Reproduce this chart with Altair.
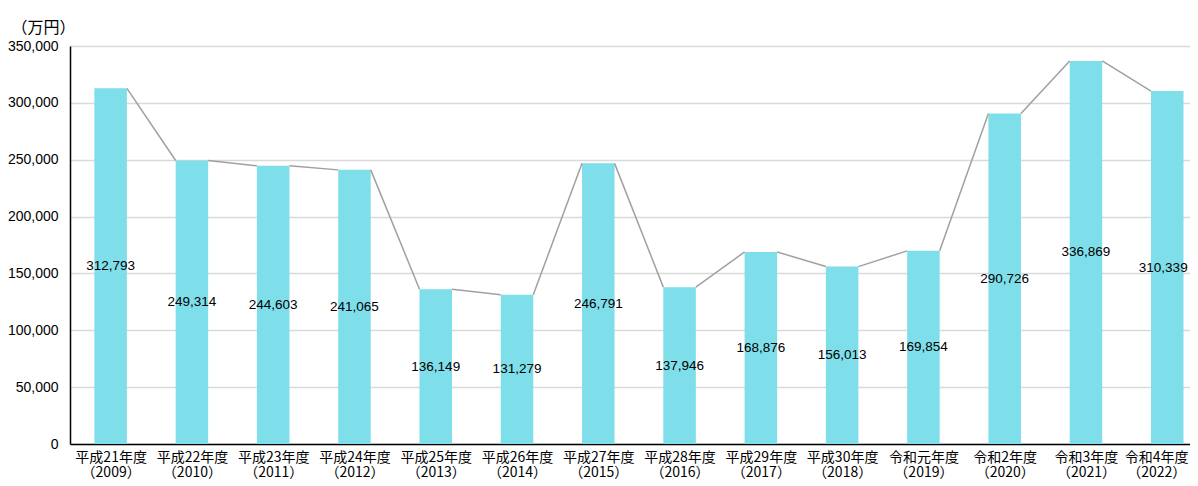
import json
import altair as alt
import pandas as pd

eras = ["平成21年度", "平成22年度", "平成23年度", "平成24年度", "平成25年度", "平成26年度",
        "平成27年度", "平成28年度", "平成29年度", "平成30年度", "令和元年度", "令和2年度",
        "令和3年度", "令和4年度"]
years = ["2009", "2010", "2011", "2012", "2013", "2014", "2015", "2016", "2017", "2018",
         "2019", "2020", "2021", "2022"]
values = [312793, 249314, 244603, 241065, 136149, 131279, 246791, 137946, 168876, 156013,
          169854, 290726, 336869, 310339]

HALF = 0.2
last = len(values) - 1
df = pd.DataFrame({"i": list(range(len(values))), "v": values})
df["x1"] = df["i"] - HALF
df["x2"] = df["i"] + HALF
df["base"] = 0
df["mid"] = df["v"] / 2
df["lbl"] = [f"{v:,}" for v in values]

seg = pd.DataFrame({
    "xa": [i + HALF for i in range(len(values) - 1)],
    "xb": [i + 1 - HALF for i in range(len(values) - 1)],
    "ya": values[:-1],
    "yb": values[1:],
})

label_arr = "[" + ",".join(json.dumps([e, f"（{y}）"], ensure_ascii=False) for e, y in zip(eras, years)) + "]"
label_expr = f"{label_arr}[datum.value]"

FONT = "Noto Sans CJK JP"
xscale = alt.Scale(domain=[-0.5, 13.28], nice=False, zero=False)
yscale = alt.Scale(domain=[0, 350000], nice=False)

bars = alt.Chart(df).mark_bar(color="#7edee9").encode(
    x=alt.X("x1:Q", scale=xscale, axis=alt.Axis(
        values=list(range(len(values))), labelExpr=label_expr, title=None, grid=False,
        ticks=False, domainColor="#000000", domainWidth=1.5, labelFont=FONT, labelFontSize=14,
        labelColor="#000000", labelPadding=6, labelLineHeight=15, labelOverlap=False,
        labelFlush=False,
        labelOffset={"condition": {"test": f"datum.value == {last}", "value": -11}, "value": 0})),
    x2="x2:Q",
    y=alt.Y("v:Q", scale=yscale, axis=alt.Axis(
        values=list(range(0, 350001, 50000)), format=",d", title="（万円）", titleAngle=0,
        titleAlign="left", titleBaseline="middle", titleX=-59, titleY=-19, titleFont=FONT,
        titleFontSize=16, titleFontWeight="normal", titleColor="#000000",
        ticks=False, domainColor="#000000", domainWidth=1.5, gridColor="#d9d9d9",
        gridWidth=1.5, labelFont="Liberation Sans", labelFontSize=14, labelColor="#000000",
        labelPadding=12)),
    y2="base:Q",
)

lines = alt.Chart(seg).mark_rule(color="#a0a0a0", strokeWidth=1.5).encode(
    x=alt.X("xa:Q", scale=xscale), x2="xb:Q",
    y=alt.Y("ya:Q", scale=yscale), y2="yb:Q",
)

text_enc = dict(x=alt.X("i:Q", scale=xscale), y=alt.Y("mid:Q", scale=yscale), text="lbl:N")
labels = alt.Chart(df).mark_text(
    font="Liberation Sans", fontSize=13.5, color="#000000", baseline="middle"
).encode(**text_enc).transform_filter(f"datum.i < {last}")
labels_last = alt.Chart(df).mark_text(
    font="Liberation Sans", fontSize=13.5, color="#000000", baseline="middle", dx=-4
).encode(**text_enc).transform_filter(f"datum.i == {last}")

chart = alt.layer(bars, lines, labels, labels_last).properties(
    width=1120, height=398,
    autosize=alt.AutoSizeParams(type="none"),
    padding={"left": 62, "top": 38, "right": 0, "bottom": 42},
).configure_view(stroke=None)

chart.save("out.html", embed_options={"renderer": "svg", "actions": False})
